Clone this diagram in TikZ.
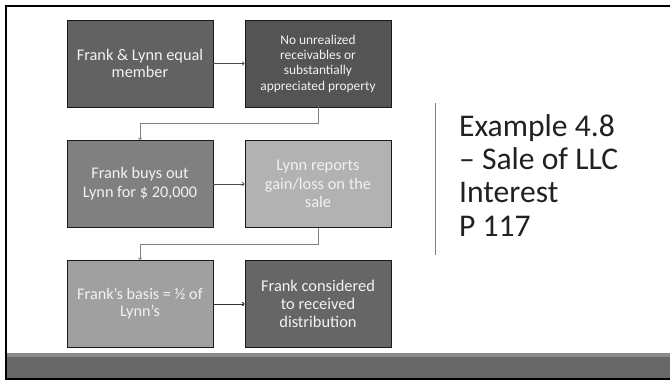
\documentclass[tikz,border=0pt]{standalone}
\usepackage{fontspec}
\setmainfont{Carlito}
\usetikzlibrary{arrows.meta}
\definecolor{cA}{HTML}{626262}
\definecolor{cB}{HTML}{545454}
\definecolor{cC}{HTML}{808080}
\definecolor{cD}{HTML}{B2B2B2}
\definecolor{cE}{HTML}{A0A0A0}
\definecolor{cF}{HTML}{666666}
\definecolor{txt}{HTML}{F2F2F2}
\definecolor{frameband}{HTML}{8A8A8A}
\definecolor{darkband}{HTML}{676767}
\begin{document}
\begin{tikzpicture}[x=1pt,y=-1pt,
  boxnode/.style={draw=black!90,line width=0.8pt,minimum width=146pt,minimum height=87pt,
    inner sep=0pt,align=center,text=txt},
  hlink/.style={draw=black!70,line width=0.7pt,-{To[length=2.5pt,width=4pt]}},
  elbow/.style={draw=black!50,line width=0.7pt,-{To[length=2.5pt,width=4pt]}}]
\useasboundingbox (0,0) rectangle (670,380);
\fill[white] (0,0) rectangle (670,380);
% footer band
\fill[frameband] (7,353) rectangle (670,357);
\fill[darkband] (7,357) rectangle (670,378);
% frame
\draw[line width=2pt,black] (670,6) -- (6,6) -- (6,379) -- (670,379);
% boxes
\node[boxnode,fill=cA,font=\fontsize{16.3}{16.7}\selectfont] (b1) at (140,63.5) {Frank \& Lynn equal\\ member};
\node[boxnode,fill=cB,font=\fontsize{13.4}{15.3}\selectfont] (b2) at (318,63.5) {No unrealized\\ receivables or\\ substantially\\ appreciated property};
\node[boxnode,fill=cC,font=\fontsize{16.3}{19}\selectfont] (b3) at (140,184) {Frank buys out\\ Lynn for \$ 20,000};
\node[boxnode,fill=cD,font=\fontsize{16.4}{18.3}\selectfont] (b4) at (318,184) {Lynn reports\\ gain/loss on the\\ sale};
\node[boxnode,fill=cE,font=\fontsize{16.2}{17}\selectfont] (b5) at (140,304) {Frank’s basis = ½ of\\ Lynn’s};
\node[boxnode,fill=cF,font=\fontsize{16.4}{18}\selectfont] (b6) at (318,304) {Frank considered\\ to received\\ distribution};
% connectors
\draw[hlink] (b1.east) -- (b2.west);
\draw[hlink] (b3.east) -- (b4.west);
\draw[hlink,draw=black!80,line width=1pt] (b5.east) -- (b6.west);
\draw[elbow] (b2.south) -- ++(0,16) -| (b3.north);
\draw[elbow] (b4.south) -- ++(0,16) -| (b5.north);
% title
\coordinate (vt) at (435,103);
\coordinate (vb) at (435,255);
\draw[black!50,line width=0.8pt] (vt) -- (vb);
\node[anchor=base west,inner sep=0pt,text=black!87,font=\fontsize{31.6}{33.3}\selectfont,align=left] (title) at (459,236)
  {Example 4.8\\ – Sale of LLC\\ Interest\\ P 117};
\end{tikzpicture}
\end{document}
